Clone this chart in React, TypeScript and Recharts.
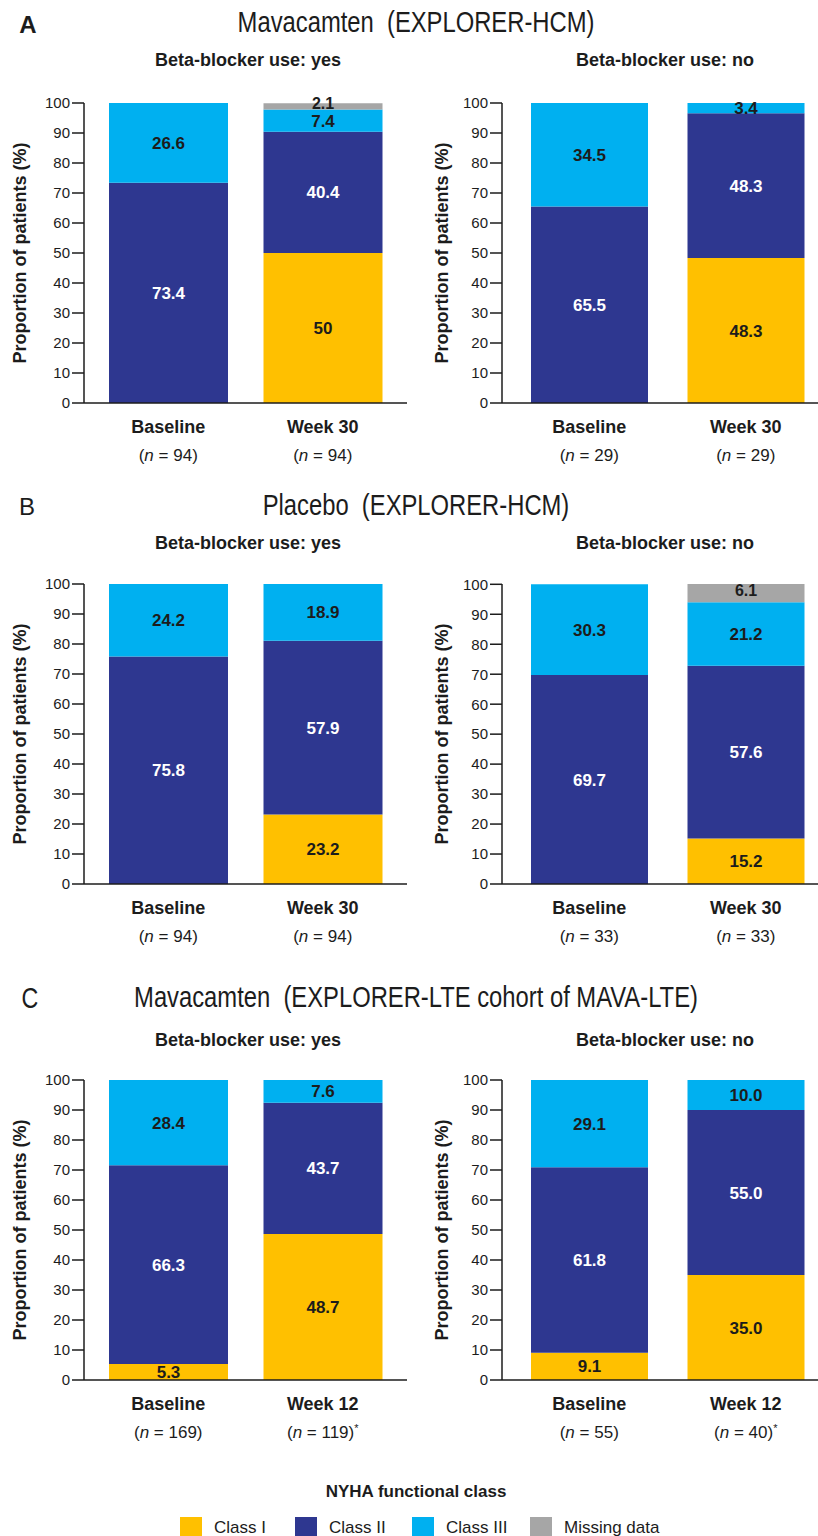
import React from 'react';
import { BarChart, Bar, XAxis, YAxis, LabelList } from 'recharts';

const FONT = "'Liberation Sans', Arial, Helvetica, sans-serif";
const CLASS_I = '#FFC000';
const CLASS_II = '#2E3790';
const CLASS_III = '#00B0F0';
const MISSING = '#A6A6A6';
const INK = '#1c1c1c';

const yTicks = [0, 10, 20, 30, 40, 50, 60, 70, 80, 90, 100];

// categories
const hcmTimes = ['Baseline', 'Week 30'];
const lteTimes = ['Baseline', 'Week 12'];

// A: mavacamten, EXPLORER-HCM
const aYesN = [94, 94];
const aYesClass1 = [0, 50];
const aYesClass2 = [73.4, 40.4];
const aYesClass3 = [26.6, 7.4];
const aYesMissing = [0, 2.1];

const aNoN = [29, 29];
const aNoClass1 = [0, 48.3];
const aNoClass2 = [65.5, 48.3];
const aNoClass3 = [34.5, 3.4];
const aNoMissing = [0, 0];

// B: placebo, EXPLORER-HCM
const bYesN = [94, 94];
const bYesClass1 = [0, 23.2];
const bYesClass2 = [75.8, 57.9];
const bYesClass3 = [24.2, 18.9];
const bYesMissing = [0, 0];

const bNoN = [33, 33];
const bNoClass1 = [0, 15.2];
const bNoClass2 = [69.7, 57.6];
const bNoClass3 = [30.3, 21.2];
const bNoMissing = [0, 6.1];

// C: mavacamten, EXPLORER-LTE cohort
const cYesN = [169, 119];
const cNoN = [55, 40];
const lteStars = [false, true];
const hcmStars = [false, false];
const cYesClass1 = [5.3, 48.7];
const cYesClass2 = [66.3, 43.7];
const cYesClass3 = [28.4, 7.6];
const cYesMissing = [0, 0];

const cNoClass1 = [9.1, 35.0];
const cNoClass2 = [61.8, 55.0];
const cNoClass3 = [29.1, 10.0];
const cNoMissing = [0, 0];

function CatTick(props: any) {
  const { x, y, payload, index, ns, stars } = props;
  return (
    <g>
      <text x={x} y={y + 30} textAnchor="middle" fontSize={18} fontWeight="bold" fill={INK} fontFamily={FONT}>
        {payload.value}
      </text>
      <text x={x} y={y + 58} textAnchor="middle" fontSize={17} fill={INK} fontFamily={FONT}>
        (<tspan fontStyle="italic">n</tspan> = {ns[index]})
        {stars[index] ? <tspan fontSize={11} dy={-6}>*</tspan> : null}
      </text>
    </g>
  );
}

function Panel(props: any) {
  const { cats, ns, stars, c1, c2, c3, cm, fixed, left, top, right } = props;
  const data = cats.map((cat: string, i: number) => ({
    cat,
    c1: c1[i] || null,
    c2: c2[i] || null,
    c3: c3[i] || null,
    cm: cm[i] || null,
  }));
  const fmt = (v: any) => (v == null || v === 0 ? '' : fixed ? Number(v).toFixed(1) : String(v));
  const labelStyle = { fontSize: 17, fontWeight: 'bold', fontFamily: FONT };
  const axisStroke = { stroke: INK, strokeWidth: 1.5 };

  return (
    <div style={{ position: 'absolute', left, top, width: right ? 398 : 410, height: 395, overflow: 'hidden' }}>
      <BarChart
        width={right ? 404 : 410}
        height={395}
        data={data}
        margin={{ top: 20, right: right ? 0 : 3, bottom: 0, left: 0 }}
        barCategoryGap={right ? 20 : 18}
      >
        <XAxis
          dataKey="cat"
          interval={0}
          height={75}
          tickLine={false}
          tickSize={0}
          tickMargin={0}
          axisLine={axisStroke}
          padding={right ? { left: 9, right: 0 } : { left: 7, right: 7 }}
          tick={(p: any) => <CatTick {...p} ns={ns} stars={stars} />}
        />
        <YAxis
          type="number"
          domain={[0, 100]}
          ticks={yTicks}
          interval={0}
          width={right ? 82 : 84}
          tickSize={12}
          tickMargin={2}
          axisLine={axisStroke}
          tickLine={axisStroke}
          tick={{ fill: INK, fontSize: 15, fontFamily: FONT }}
          label={{
            value: 'Proportion of patients (%)',
            angle: -90,
            position: 'center',
            dx: right ? -19 : -22,
            fill: INK,
            fontSize: 18,
            fontWeight: 'bold',
            fontFamily: FONT,
          }}
        />
        <Bar dataKey="c1" stackId="s" fill={CLASS_I} isAnimationActive={false}>
          <LabelList dataKey="c1" position="center" fill={INK} formatter={fmt} {...labelStyle} />
        </Bar>
        <Bar dataKey="c2" stackId="s" fill={CLASS_II} isAnimationActive={false}>
          <LabelList dataKey="c2" position="center" fill="#ffffff" formatter={fmt} {...labelStyle} />
        </Bar>
        <Bar dataKey="c3" stackId="s" fill={CLASS_III} isAnimationActive={false}>
          <LabelList dataKey="c3" position="center" fill={INK} formatter={fmt} {...labelStyle} />
        </Bar>
        <Bar dataKey="cm" stackId="s" fill={MISSING} isAnimationActive={false}>
          <LabelList dataKey="cm" position="center" fill={INK} formatter={fmt} dy={-3} {...labelStyle} fontSize={16} />
        </Bar>
      </BarChart>
    </div>
  );
}

function Abs({ x, y, children, style }: any) {
  return (
    <div
      style={{
        position: 'absolute',
        left: x,
        top: y,
        transform: 'translate(-50%, -50%)',
        whiteSpace: 'nowrap',
        lineHeight: 1,
        color: INK,
        ...style,
      }}
    >
      {children}
    </div>
  );
}

function Title({ y, text }: any) {
  return (
    <Abs x={416} y={y}>
      <div style={{ fontSize: 29, transform: 'scaleX(0.82)', whiteSpace: 'pre' }}>{text}</div>
    </Abs>
  );
}

const sub = { fontSize: 18, fontWeight: 'bold' };

const legendItems = [
  { name: 'Class I', color: CLASS_I, x: 180 },
  { name: 'Class II', color: CLASS_II, x: 295 },
  { name: 'Class III', color: CLASS_III, x: 412 },
  { name: 'Missing data', color: MISSING, x: 530 },
];

export default function App() {
  return (
    <div
      style={{
        position: 'absolute',
        left: 0,
        top: 0,
        width: 818,
        height: 1536,
        overflow: 'hidden',
        background: '#fff',
        fontFamily: FONT,
      }}
    >
      <Abs x={28} y={25} style={{ fontSize: 24, fontWeight: 'bold' }}>A</Abs>
      <Title y={22} text={'Mavacamten  (EXPLORER-HCM)'} />
      <Abs x={248} y={60} style={sub}>Beta-blocker use: yes</Abs>
      <Abs x={665} y={60} style={sub}>Beta-blocker use: no</Abs>
      <Panel cats={hcmTimes} ns={aYesN} stars={hcmStars} c1={aYesClass1} c2={aYesClass2} c3={aYesClass3} cm={aYesMissing} left={0} top={83} />
      <Panel cats={hcmTimes} ns={aNoN} stars={hcmStars} c1={aNoClass1} c2={aNoClass2} c3={aNoClass3} cm={aNoMissing} left={420} top={83} right />

      <Abs x={27} y={507} style={{ fontSize: 24 }}>B</Abs>
      <Title y={505} text={'Placebo  (EXPLORER-HCM)'} />
      <Abs x={248} y={543} style={sub}>Beta-blocker use: yes</Abs>
      <Abs x={665} y={543} style={sub}>Beta-blocker use: no</Abs>
      <Panel cats={hcmTimes} ns={bYesN} stars={hcmStars} c1={bYesClass1} c2={bYesClass2} c3={bYesClass3} cm={bYesMissing} left={0} top={564} />
      <Panel cats={hcmTimes} ns={bNoN} stars={hcmStars} c1={bNoClass1} c2={bNoClass2} c3={bNoClass3} cm={bNoMissing} left={420} top={564} right />

      <Abs x={30} y={998} style={{ fontSize: 29, transform: 'translate(-50%, -50%) scaleX(0.8)' }}>C</Abs>
      <Title y={997} text={'Mavacamten  (EXPLORER-LTE cohort of MAVA-LTE)'} />
      <Abs x={248} y={1040} style={sub}>Beta-blocker use: yes</Abs>
      <Abs x={665} y={1040} style={sub}>Beta-blocker use: no</Abs>
      <Panel cats={lteTimes} ns={cYesN} stars={lteStars} c1={cYesClass1} c2={cYesClass2} c3={cYesClass3} cm={cYesMissing} fixed left={0} top={1060} />
      <Panel cats={lteTimes} ns={cNoN} stars={lteStars} c1={cNoClass1} c2={cNoClass2} c3={cNoClass3} cm={cNoMissing} fixed left={420} top={1060} right />

      <Abs x={416} y={1491} style={{ fontSize: 17, fontWeight: 'bold' }}>NYHA functional class</Abs>
      {legendItems.map((it) => (
        <div key={it.name} style={{ position: 'absolute', left: it.x, top: 1517, display: 'flex', alignItems: 'center' }}>
          <div style={{ width: 22, height: 22, background: it.color }} />
          <span style={{ marginLeft: 12, fontSize: 17, color: INK }}>{it.name}</span>
        </div>
      ))}
    </div>
  );
}
